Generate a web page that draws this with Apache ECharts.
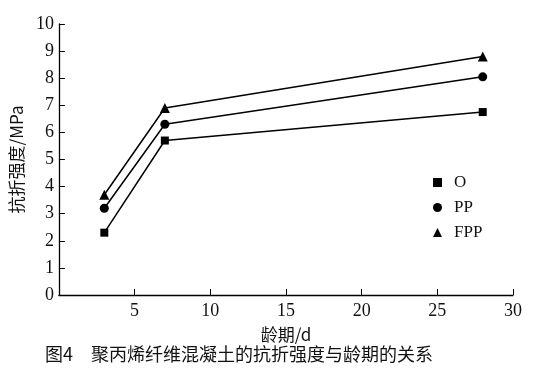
<!DOCTYPE html>
<html>
<head>
<meta charset="utf-8">
<script src="https://cdn.jsdelivr.net/npm/echarts@6/dist/echarts.min.js"></script>
<style>
  html, body { margin: 0; padding: 0; background: #fff; }
  #chart { width: 535px; height: 372px; }
</style>
</head>
<body>
<div id="chart"></div>
<script>
// 龄期 (d)
const ages = [3, 7, 28]
// 抗折强度 (MPa)
const strengthO = [2.3, 5.7, 6.75]
const strengthPP = [3.2, 6.3, 8.05]
const strengthFPP = [3.7, 6.9, 8.8]
const seriesNames = ['O', 'PP', 'FPP']

const serif = 'Liberation Serif'
const cjk = 'Noto Sans CJK SC'

const toPairs = (vals) => ages.map((a, i) => [a, vals[i]])

const chart = echarts.init(document.getElementById('chart'))

const makeSeries = (name, vals, symbol, size) => ({
  name: name,
  type: 'line',
  data: toPairs(vals),
  symbol: symbol,
  symbolSize: size,
  showAllSymbol: true,
  lineStyle: { color: '#000', width: 1.5 },
  itemStyle: { color: '#000' },
  emphasis: { disabled: true }
})

chart.setOption({
  animation: false,
  title: {
    text: '图4　聚丙烯纤维混凝土的抗折强度与龄期的关系',
    left: 40,
    top: 340,
    textStyle: { fontFamily: cjk, fontSize: 18, fontWeight: 'normal', color: '#111' }
  },
  legend: {
    orient: 'vertical',
    left: 428,
    top: 169,
    itemGap: 8,
    itemWidth: 9,
    itemHeight: 9,
    textStyle: { fontFamily: serif, fontSize: 17, color: '#111', padding: [0, 0, 0, 7] },
    data: [
      { name: 'O', icon: 'rect' },
      { name: 'PP', icon: 'circle' },
      { name: 'FPP', icon: 'triangle' }
    ]
  },
  grid: { left: 45, right: 22, top: 24, bottom: 77, containLabel: false },
  xAxis: {
    type: 'value',
    min: 0,
    max: 30,
    interval: 5,
    name: '龄期/d',
    nameLocation: 'middle',
    nameGap: 31,
    nameTextStyle: { fontFamily: cjk, fontSize: 17, color: '#111' },
    axisLine: { lineStyle: { color: '#000', width: 1.3 } },
    axisTick: { inside: true, length: 6, lineStyle: { color: '#000' } },
    axisLabel: {
      fontFamily: serif, fontSize: 18, color: '#111', margin: 7,
      formatter: (v) => (v === 0 ? '' : v)
    },
    splitLine: { show: false }
  },
  yAxis: {
    type: 'value',
    min: 0,
    max: 10,
    interval: 1,
    name: '抗折强度/MPa',
    nameLocation: 'middle',
    nameGap: 30,
    nameTextStyle: { fontFamily: cjk, fontSize: 17, color: '#111' },
    axisLine: { show: true, lineStyle: { color: '#000', width: 1.3 } },
    axisTick: { show: true, inside: true, length: 6, lineStyle: { color: '#000' } },
    axisLabel: { fontFamily: serif, fontSize: 18, color: '#111', margin: 5 },
    splitLine: { show: false }
  },
  series: [
    makeSeries(seriesNames[0], strengthO, 'rect', 8),
    makeSeries(seriesNames[1], strengthPP, 'circle', 9),
    makeSeries(seriesNames[2], strengthFPP, 'triangle', 10)
  ]
})
</script>
</body>
</html>
